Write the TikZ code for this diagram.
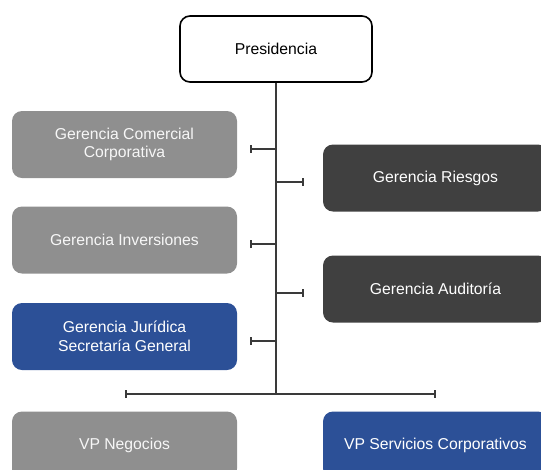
\documentclass[tikz,border=0pt]{standalone}
\usepackage{fontspec}
\setmainfont{Liberation Sans}
\usetikzlibrary{arrows.meta,calc}
\definecolor{unitgray}{HTML}{8F8F8F}
\definecolor{unitdark}{HTML}{404040}
\definecolor{unitblue}{HTML}{2C5097}
\definecolor{linkgray}{HTML}{3A3A3A}

\begin{document}
\begin{tikzpicture}[x=0.75pt,y=-0.75pt,
  unit/.style={rounded corners=7.5pt,minimum width=168.75pt,minimum height=50.25pt,
    inner sep=0pt,align=center,text=white,font=\fontsize{11.8}{14}\selectfont},
  graybox/.style={unit,fill=unitgray,text=white!94!gray},
  darkbox/.style={unit,fill=unitdark},
  bluebox/.style={unit,fill=unitblue},
  link/.style={draw=linkgray,line width=1.5pt},
  tick/.style={link,-{Bar[width=6pt]}}]
\clip (0,0) rectangle (541,469);

% Top of the chart
\node[draw,line width=1.2pt,rounded corners=7.5pt,minimum width=144pt,minimum height=49.5pt,
  font=\fontsize{11.8}{14}\selectfont] (pres) at (276,49) {Presidencia};

% Units on the left
\node[graybox] (comercial) at (124.5,144.5) {Gerencia Comercial\\Corporativa};
\node[graybox] (inversiones) at (124.5,240) {Gerencia Inversiones};
\node[bluebox] (juridica) at (124.5,336.5) {Gerencia Jurídica\\Secretaría General};

% Units on the right
\node[darkbox] (riesgos) at (435.5,178) {Gerencia Riesgos};
\node[darkbox] (auditoria) at (435.5,289) {Gerencia Auditoría};

% Vice presidencies
\node[graybox] (vpneg) at (124.5,445) {VP Negocios};
\node[bluebox] (vpserv) at (435.5,445) {VP Servicios Corporativos};

% Trunk and bar
\coordinate (barL) at ($(vpneg.north)+(0,-17)$);
\coordinate (barR) at ($(vpserv.north)+(0,-17)$);
\draw[link] (pres.south) -- (pres.south |- barL);
\draw[link,{Bar[width=6pt]}-{Bar[width=6pt]}] (barL) -- (barR);

% Side ticks
\foreach \u in {comercial,inversiones,juridica}
  \draw[tick] ($(pres.south |- \u.east)+(0,4)$) -- ($(\u.east)+(13,4)$);
\foreach \u in {riesgos,auditoria}
  \draw[tick] ($(pres.south |- \u.west)+(0,4)$) -- ($(\u.west)+(-19,4)$);

\end{tikzpicture}
\end{document}
